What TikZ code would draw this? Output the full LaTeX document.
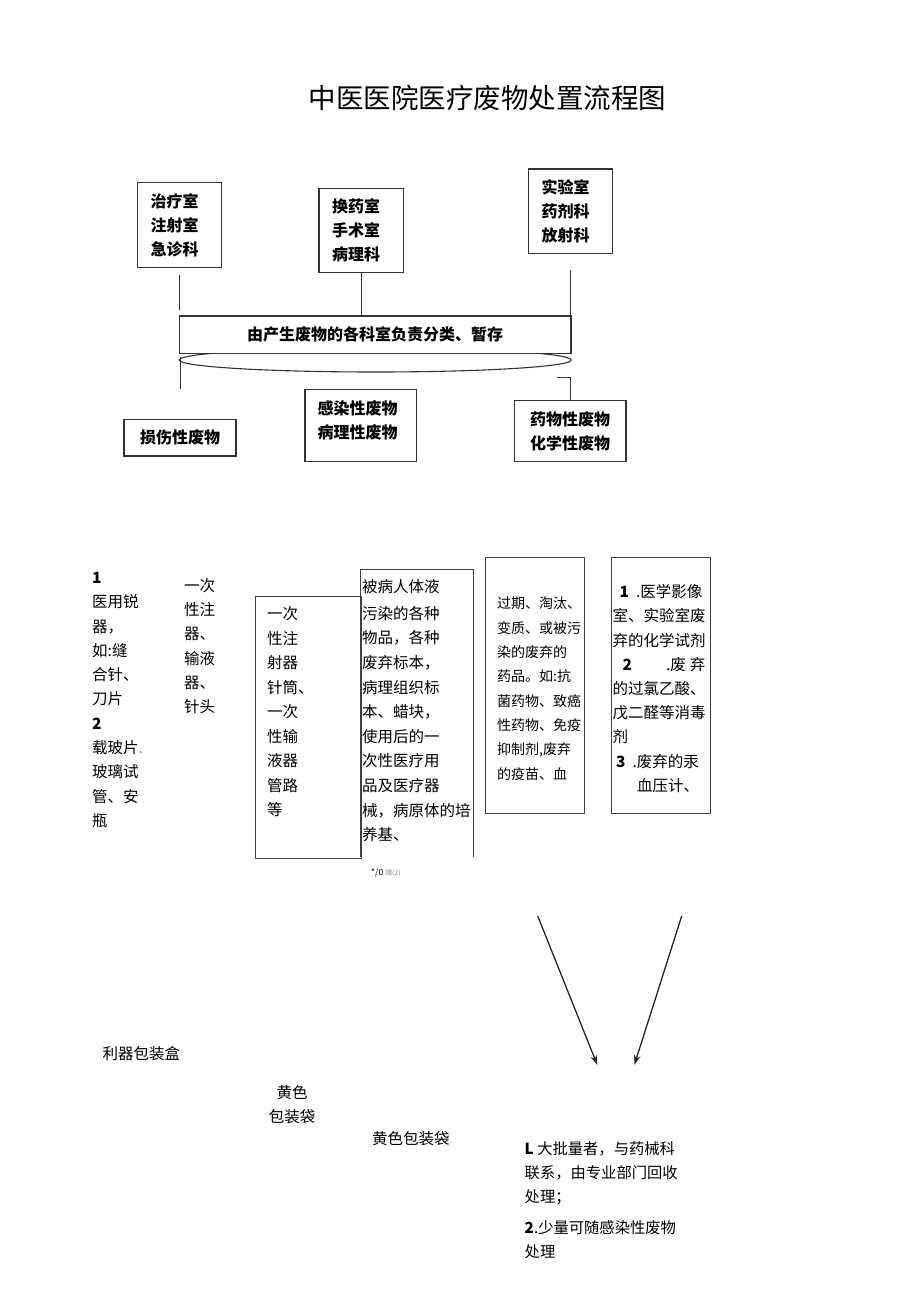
\documentclass[tikz,border=0pt]{standalone}
\usepackage{fontspec}
\setmainfont{Noto Sans CJK SC}
\usetikzlibrary{arrows.meta, shapes.geometric, positioning}
\tikzset{topbox/.style={draw=black!80, line width=1.2pt, fill=white, inner sep=0pt, minimum width=84.3pt, minimum height=84.5pt, text width=58pt, align=left, font=\bfseries\fontsize{16}{24}\selectfont},
  wastebox/.style={draw=black!80, line width=1.2pt, fill=white, inner sep=0pt, minimum width=111.7pt, align=left, font=\bfseries\fontsize{16}{24}\selectfont},
  listbox/.style={draw=black!75, line width=0.8pt, inner sep=0pt},
  txt/.style={inner sep=0pt, anchor=north west, align=left, font=\fontsize{15.5}{24.3}\selectfont},
  link/.style={draw=black!80, line width=1pt},
  dn/.style={-{Stealth[length=10pt,width=6.5pt]}, line width=1.3pt, draw=black!85}}

\begin{document}
\begin{tikzpicture}[x=1pt, y=-1pt]
\useasboundingbox (0,0) rectangle (920,1301);
\node[font=\fontsize{27.5}{30}\selectfont, inner sep=0pt] (title) at (487.5,98) {中医医院医疗废物处置流程图};
% departments
\node[topbox] (dep1) at (179.7,225) {治疗室\\注射室\\急诊科};
\node[topbox] (dep2) at (361.2,230.5) {换药室\\手术室\\病理科};
\node[topbox] (dep3) at (570.5,211.2) {实验室\\药剂科\\放射科};
% sorting and temporary storage
\node[ellipse, draw=black!80, line width=1.1pt, minimum width=392pt, minimum height=24pt, inner sep=0pt] (base) at (375.2,360) {};
\node[wastebox, minimum width=391.7pt, minimum height=37.3pt] (sort) at (375.2,334.7) {由产生废物的各科室负责分类、暂存};
\draw[link] (dep1.south |- 0,275) -- (dep1.south |- 0,310);
\draw[link] (dep2.south) -- (dep2.south |- sort.north);
\draw[link] (dep3.south |- 0,270) -- (dep3.south |- sort.north);
% waste classes
\node[wastebox, minimum width=112pt, minimum height=36.7pt] (sharp) at (180,437.6) {损伤性废物};
\node[wastebox, minimum height=72.4pt] (infect) at (360.8,425.5) {};
\node[font=\bfseries\fontsize{16}{24}\selectfont, align=left, inner sep=0pt] (infectT) at (357.5,420) {感染性废物\\病理性废物};
\node[wastebox, minimum height=61pt] (chem) at (570.2,431.2) {药物性废物\\化学性废物};
\coordinate (hook) at (557,377);
\draw[link] (sharp.north |- 0,357) -- (sharp.north |- 0,389);
\draw[link] (hook) -| (chem.north);
% items
\node[txt] (sharpItems) at (92,572) {\textbf{1}\\医用锐\\器，\\如:缝\\合针、\\刀片\\\textbf{2}\\载玻片{\color{black!40}.}\\玻璃试\\管、安\\瓶};
\node[txt] (syringe) at (184,578) {一次\\性注\\器、\\输液\\器、\\针头};
\node[listbox, minimum width=105.3pt, minimum height=261.6pt] (tube) at (308.35,727.5) {};
\node[txt, font=\fontsize{15.5}{24.5}\selectfont] (tubeT) at (267,606.3) {一次\\性注\\射器\\针筒、\\一次\\性输\\液器\\管路\\等};
\node[minimum width=112.3pt, minimum height=287pt, inner sep=0pt] (infItems) at (417.15,713.5) {};
\draw[listbox] (infItems.south west) -- (infItems.north west) -- (infItems.north east) -- (infItems.south east);
\node[txt, font=\fontsize{15.5}{24.6}\selectfont] (infItemsT) at (362,579.5) {被病人体液\\[2pt]污染的各种\\物品，各种\\废弃标本，\\病理组织标\\本、蜡块，\\使用后的一\\次性医疗用\\品及医疗器\\械，病原体的培\\养基、};
\node[anchor=west, inner sep=0pt, font=\fontsize{8.5}{9}\selectfont] (note) at (371,873) {*/0 {\color{black!45}\fontsize{7}{8}\selectfont 端(2)}};
\node[listbox, minimum width=98.6pt, minimum height=256pt] (drug) at (535,685.3) {};
\node[txt, font=\fontsize{14}{24.3}\selectfont] (drugT) at (497,597) {过期、淘汰、\\变质、或被污\\染的废弃的\\药品。如:抗\\菌药物、致癌\\性药物、免疫\\抑制剂,废弃\\的疫苗、血};
\node[listbox, minimum width=98.3pt, minimum height=256pt] (chemItems) at (660.85,685.3) {};
\node[txt, font=\fontsize{15.5}{24.2}\selectfont] (chemItemsT) at (612.5,584.3) {\hspace*{7pt}\textbf{1}\hspace*{7pt}.医学影像\\室、实验室废\\弃的化学试剂\\\hspace*{10pt}\textbf{2}\hspace*{34pt}.废\hspace*{4pt}弃\\的过氯乙酸、\\戊二醛等消毒\\剂\\\hspace*{3.5pt}\textbf{3}\hspace*{7pt}.废弃的汞\\\hspace*{24.5pt}血压计、};
% to disposal
\coordinate (a1s) at (537.7,916); \coordinate (a1e) at (597.3,1065);
\coordinate (a2s) at (681.7,916); \coordinate (a2e) at (634.3,1065);
\draw[dn] (a1s) -- (a1e);
\draw[dn] (a2s) -- (a2e);
% packing
\node[anchor=west, inner sep=0pt, font=\fontsize{15.5}{24}\selectfont] (sharpBox) at (102.5,1054) {利器包装盒};
\node[align=center, inner sep=0pt, font=\fontsize{15.5}{24}\selectfont] (bag1) at (292,1105) {黄色\\包装袋};
\node[anchor=west, inner sep=0pt, font=\fontsize{15.5}{24}\selectfont] (bag2) at (372,1138.5) {黄色包装袋};
\node[txt, font=\fontsize{15.3}{24}\selectfont] (disposal) at (524.5,1141) {\textbf{L} 大批量者，与药械科\\联系，由专业部门回收\\处理；\\[7.5pt]\textbf{2}.少量可随感染性废物\\处理};
\end{tikzpicture}
\end{document}
